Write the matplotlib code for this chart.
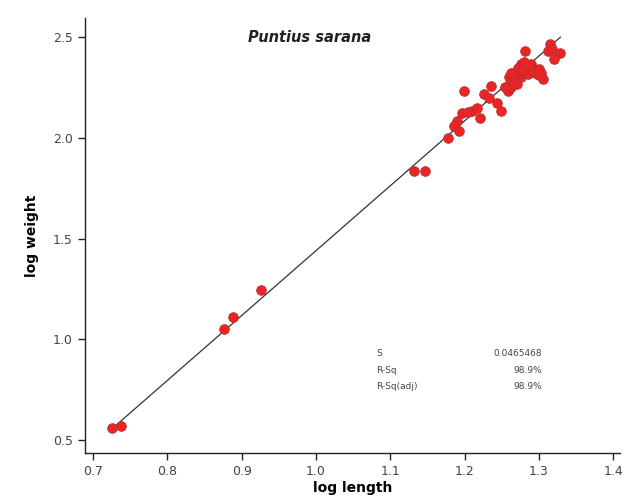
import numpy as np
import matplotlib
matplotlib.use('Agg')
import matplotlib.pyplot as plt

# log length / log weight readings
log_length = [0.726, 0.738, 0.876, 0.888, 0.926, 1.132, 1.147,
              1.178, 1.192, 1.190, 1.197, 1.199, 1.210, 1.217, 1.221,
              1.226, 1.235, 1.233, 1.244, 1.249, 1.260, 1.260,
              1.258, 1.263, 1.270, 1.276, 1.283, 1.290, 1.294, 1.303,
              1.306, 1.276, 1.270, 1.285, 1.297, 1.267, 1.274, 1.280,
              1.263, 1.281, 1.315, 1.313, 1.329, 1.320,
              1.268, 1.272, 1.278, 1.287, 1.292, 1.300, 1.265, 1.262,
              1.255, 1.186, 1.205, 1.318, 1.300]
log_weight = [0.560, 0.570, 1.050, 1.110, 1.243, 1.837, 1.837,
              2.000, 2.035, 2.084, 2.125, 2.233, 2.134, 2.150, 2.100,
              2.216, 2.257, 2.200, 2.175, 2.134, 2.240, 2.300,
              2.233, 2.280, 2.330, 2.365, 2.350, 2.365, 2.340, 2.323,
              2.290, 2.300, 2.266, 2.317, 2.317, 2.300, 2.320, 2.378,
              2.250, 2.431, 2.464, 2.431, 2.422, 2.390,
              2.310, 2.345, 2.335, 2.355, 2.330, 2.340, 2.265, 2.320,
              2.250, 2.060, 2.130, 2.440, 2.310]

fit_intercept = -1.78
fit_slope = 3.22

stat_names = ['S', 'R-Sq', 'R-Sq(adj)']
stat_values = ['0.0465468', '98.9%', '98.9%']

fig = plt.figure(figsize=(6.28, 5.04), dpi=100)
ax = fig.add_axes([0.135, 0.101, 0.852, 0.863])

# fitted line over the data range
xl = np.array([min(log_length), max(log_length)])
ax.plot(xl, fit_intercept + fit_slope * xl, color='#333333', lw=0.9, zorder=2)

ax.scatter(log_length, log_weight, s=48, color='#ee2424',
           edgecolors='#b33030', linewidths=0.6, zorder=3)

ax.set_xlim(0.689, 1.409)
ax.set_ylim(0.436, 2.594)
ax.set_xticks([0.7, 0.8, 0.9, 1.0, 1.1, 1.2, 1.3, 1.4])
ax.set_yticks([0.5, 1.0, 1.5, 2.0, 2.5])
ax.xaxis.set_major_formatter(plt.FormatStrFormatter('%.1f'))
ax.yaxis.set_major_formatter(plt.FormatStrFormatter('%.1f'))

for side in ['top', 'right']:
    ax.spines[side].set_visible(False)
for side in ['left', 'bottom']:
    ax.spines[side].set_color('#222222')
    ax.spines[side].set_linewidth(1.0)

ax.tick_params(direction='out', length=5, width=1, colors='#222222',
               labelcolor='#444444', labelsize=9)

ax.set_xlabel('log length', fontsize=10, fontweight='bold', labelpad=2)
ax.set_ylabel('log weight', fontsize=10, fontweight='bold', labelpad=10)

ax.text(0.42, 0.955, 'Puntius sarana', transform=ax.transAxes,
        fontsize=10.5, fontweight='bold', style='italic', ha='center',
        va='center', color='#222222')

# stats table
for i, (name, val) in enumerate(zip(stat_names, stat_values)):
    y = 0.228 - i * 0.038
    ax.text(0.545, y, name, transform=ax.transAxes, fontsize=6.5,
            color='#444444', va='center', ha='left')
    ax.text(0.855, y, val, transform=ax.transAxes, fontsize=6.5,
            color='#444444', va='center', ha='right')

fig.savefig('out.png', dpi=100)
